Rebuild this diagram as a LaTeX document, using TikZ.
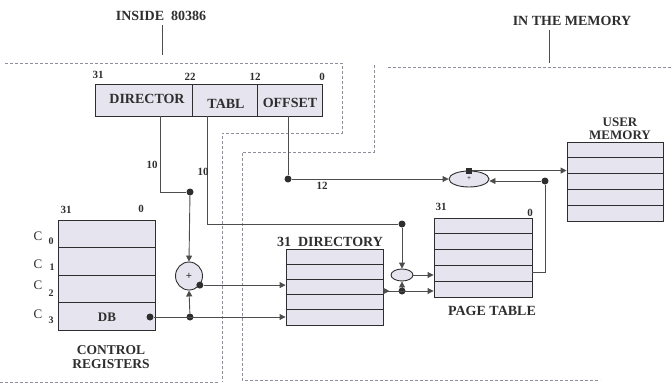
\documentclass[tikz,border=0pt]{standalone}
\usepackage{fontspec}
\setmainfont{Liberation Serif}
\usetikzlibrary{arrows.meta,calc,shapes.geometric}
\definecolor{lav}{HTML}{E6E4EE}
\definecolor{ink}{HTML}{2E2E2E}
\definecolor{dashc}{HTML}{8E8E9C}
\tikzset{
  regbox/.style={draw=ink, fill=lav, line width=0.9pt, inner sep=0pt},
  divline/.style={draw=ink, line width=0.9pt},
  conn/.style={draw=ink!85, line width=0.9pt},
  arr/.style={-{Triangle[length=6pt,width=6pt]}},
  jdot/.style={circle, fill=ink, inner sep=0pt, minimum size=7pt},
  lbl/.style={font=\bfseries\fontsize{14}{15}\selectfont, text=ink, inner sep=0pt},
  slbl/.style={font=\bfseries\fontsize{11}{12}\selectfont, text=ink, inner sep=0pt},
  clbl/.style={font=\fontsize{13}{14}\selectfont, text=ink, inner sep=0pt},
  csub/.style={font=\bfseries\fontsize{10}{11}\selectfont, text=ink, inner sep=0pt},
  zone/.style={draw=dashc, line width=0.8pt, dash pattern=on 3pt off 2pt},
  adder/.style={ellipse, draw=ink, fill=lav, line width=0.9pt, inner sep=0pt},
}
\begin{document}
\begin{tikzpicture}[x=1pt,y=-1pt]
\useasboundingbox (0,0) rectangle (672,389);

% zone borders
\draw[zone] (5,63) -- (342,63) -- (342,133) -- (222,133) -- (222,382);
\draw[zone] (0,382) -- (218,382);
\draw[zone] (388,67) -- (672,67);
\draw[zone] (374,65) -- (374,152) -- (242,152) -- (242,380) -- (600,380);

% titles
\node[lbl] (tin) at (161,16) {INSIDE\ \ 80386};
\node[lbl] (tmem) at (572,21) {IN THE MEMORY};
\coordinate (tinl) at (162,55);
\coordinate (tmeml) at (549,63);
\draw[conn] ([yshift=-4pt]tin.south -| tinl) -- (tinl);
\draw[conn] ([yshift=-4pt]tmem.south -| tmeml) -- (tmeml);

% linear address register
\node[regbox, minimum width=227pt, minimum height=32pt] (lin) at (208.5,100) {};
\draw[divline] (192,84) -- (192,116);
\draw[divline] (257,84) -- (257,116);
\node[lbl] (ldir) at (147,99) {DIRECTOR};
\node[lbl] (ltab) at (226,104) {TABL};
\node[lbl] (loff) at (290,103) {OFFSET};
\node[slbl] (b31) at (98,75) {31};
\node[slbl] (b22) at (190,77) {22};
\node[slbl] (b12) at (255,77) {12};
\node[slbl] (b0) at (322,77) {0};

% control registers
\node[regbox, minimum width=97pt, minimum height=110pt] (cr) at (106.5,275) {};
\foreach \yy in {247.5,275,302.5} \draw[divline] (58,\yy) -- (155,\yy);
\node[slbl] (c31) at (66,210) {31};
\node[slbl] (c0) at (141,209) {0};
\node[clbl] (cc0) at (38,236) {C};
\node[csub] (cs0) at (51,241) {0};
\node[clbl] (cc1) at (38,264) {C};
\node[csub] (cs1) at (52,267) {1};
\node[clbl] (cc2) at (38,285) {C};
\node[csub] (cs2) at (51,293) {2};
\node[clbl] (cc3) at (38,314) {C};
\node[csub] (cs3) at (51,320) {3};
\node[slbl, font=\bfseries\fontsize{13}{14}\selectfont] (dbt) at (107,317) {DB};
\node[lbl, align=center, font=\bfseries\fontsize{13.5}{14}\selectfont] (crl) at (111,357) {CONTROL\\REGISTERS};

% directory
\node[regbox, minimum width=97pt, minimum height=76pt] (dir) at (334.5,287) {};
\foreach \yy in {264.2,279.4,294.6,309.8} \draw[divline] (286,\yy) -- (383,\yy);
\node[lbl] (dirl) at (330,242) {31\ \ DIRECTORY};

% page table
\node[regbox, minimum width=98pt, minimum height=79pt] (pt) at (483,257.5) {};
\foreach \yy in {233.8,249.6,265.4,281.2} \draw[divline] (434,\yy) -- (532,\yy);
\node[slbl] (p31) at (441,207) {31};
\node[slbl] (p0) at (530,213) {0};
\node[lbl] (ptl) at (492,311) {PAGE TABLE};

% user memory
\node[regbox, minimum width=96pt, minimum height=79pt] (um) at (615,181.5) {};
\foreach \yy in {157.8,173.6,189.4,205.2} \draw[divline] (567,\yy) -- (663,\yy);
\node[lbl, align=center, font=\bfseries\fontsize{13}{13}\selectfont] (uml) at (620,129) {USER\\MEMORY};

% adders
\node[adder, minimum width=27pt, minimum height=28pt] (add1) at (189,276) {};
\node[slbl] at (add1) {+};
\node[adder, minimum width=22pt, minimum height=12pt] (add2) at (402,275) {};
\node[adder, minimum width=40pt, minimum height=16pt] (add3) at (469,179) {};
\node[slbl, font=\bfseries\fontsize{7}{8}\selectfont] at (add3) {+};

% directory field path
\coordinate (dirout) at (160,116);
\node[jdot] (j1) at (190,192) {};
\draw[conn] (dirout) |- (j1);
\node[slbl] (n10a) at (152,165) {10};
\draw[conn, arr] (j1) -- (add1.north);
\node[jdot] (j2) at (add1.-40) {};
\draw[conn, arr] (j2) -- (j2 -| dir.west);

% DB path
\node[jdot] (db) at (150,317) {};
\node[jdot] (j3) at (190,317) {};
\draw[conn, arr] (db) -- (db -| dir.west);
\draw[conn, arr] (j3) -- (add1.south);

% table field path
\coordinate (tabout) at (207,116);
\node[jdot] (j4) at (402,224) {};
\draw[conn] (tabout) |- (j4);
\node[slbl] (n10b) at (203,172) {10};
\draw[conn, arr] (j4) -- (add2.north);
\draw[conn, arr] (add2.east) -- (add2.east -| pt.west);
\node[jdot] (j5) at (402,291) {};
\draw[conn, arr] (j5) -- (add2.south);
\draw[conn, {Triangle[reversed,length=6pt,width=6pt]}-{Triangle[length=6pt,width=6pt]}] (dir.east |- j5) -- (j5 -| pt.west);

% offset path
\coordinate (offout) at (288,116);
\node[jdot] (j6) at (288,179) {};
\draw[conn] (offout) -- (j6);
\draw[conn, arr] (j6) -- (add3.west);
\node[slbl] (n12) at (322,186) {12};
\node[rectangle, fill=ink, inner sep=0pt, minimum size=6pt] (j7) at (add3.north) {};
\draw[conn, arr] (j7) -- (j7 -| um.west);

% page table to adder
\coordinate (ptout) at (532,272);
\node[jdot] (j8) at (545,181) {};
\draw[conn] (ptout) -| (j8);
\draw[conn, arr] (j8) -- (j8 -| add3.east);
\end{tikzpicture}
\end{document}
